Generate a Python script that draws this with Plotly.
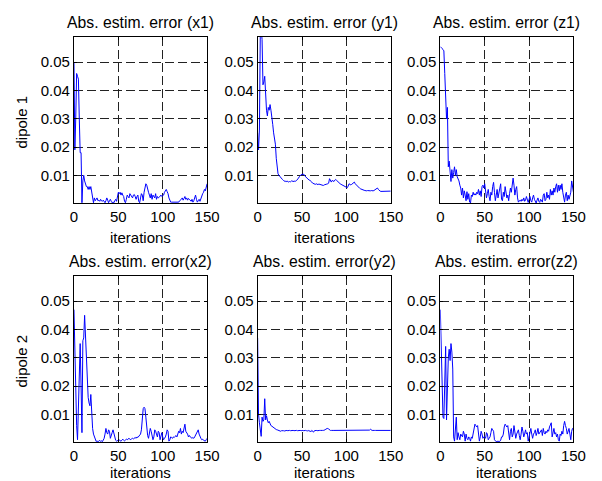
import plotly.graph_objects as go

iterations = list(range(151))

err_x1 = [
    0.050, 0.019, 0.030, 0.046, 0.045, 0.044, 0.030, 0.018, 0.018, 0.0003,
    0.008, 0.010, 0.008, 0.007, 0.006, 0.006, 0.005, 0.006, 0.005, 0.006,
    0.004, 0.001, 0.0003, 0.002, 0.001, 0.0015, 0.002, 0.001, 0.0012, 0.0008,
    0.0015, 0.001, 0.0008, 0.0012, 0.0005, 0.0003, 0.001, 0.002, 0.0012, 0.0003,
    0.001, 0.0015, 0.0008, 0.0003, 0.0006, 0.0003, 0.001, 0.0015, 0.0008, 0.002,
    0.004, 0.0035, 0.004, 0.003, 0.0038, 0.003, 0.0025, 0.0008, 0.0003, 0.0015,
    0.003, 0.0025, 0.002, 0.0035, 0.003, 0.0025, 0.002, 0.003, 0.0032, 0.0025,
    0.0015, 0.0025, 0.003, 0.0008, 0.0003, 0.002, 0.0035, 0.003, 0.001, 0.004,
    0.0055, 0.007, 0.0065, 0.0045, 0.004, 0.003, 0.002, 0.0035, 0.0015, 0.003,
    0.0025, 0.002, 0.0035, 0.0015, 0.0025, 0.002, 0.0022, 0.0025, 0.003, 0.0025,
    0.0028, 0.003, 0.004, 0.0045, 0.005, 0.0042, 0.0035, 0.002, 0.001, 0.0005,
    0.0005, 0.0005, 0.0004, 0.0005, 0.0005, 0.0004, 0.0005, 0.0006, 0.0005, 0.001,
    0.0012, 0.0015, 0.002, 0.0012, 0.0018, 0.0025, 0.0015, 0.002, 0.0012, 0.0018,
    0.0015, 0.0012, 0.0008, 0.0015, 0.0005, 0.001, 0.002, 0.003, 0.0015, 0.0005,
    0.001, 0.0015, 0.0008, 0.002, 0.003, 0.0035, 0.004, 0.005, 0.0045, 0.006,
    0.007,
]

err_y1 = [
    0.025, 0.019, 0.026, 0.060, 0.062, 0.058, 0.042, 0.043, 0.045, 0.036,
    0.033, 0.031, 0.034, 0.033, 0.035, 0.033, 0.031, 0.028, 0.025, 0.023,
    0.021, 0.016, 0.012, 0.0105, 0.010, 0.0095, 0.009, 0.0088, 0.0085, 0.0082,
    0.008, 0.0078, 0.008, 0.0077, 0.0079, 0.0076, 0.0078, 0.0077, 0.008, 0.0079,
    0.0077, 0.0078, 0.008, 0.0079, 0.0082, 0.0085, 0.009, 0.0095, 0.0098, 0.0102,
    0.0105, 0.0102, 0.0104, 0.0098, 0.0095, 0.009, 0.0087, 0.0085, 0.0083, 0.0082,
    0.008, 0.0076, 0.0072, 0.007, 0.0069, 0.0068, 0.007, 0.0068, 0.0067, 0.0069,
    0.0068, 0.0066, 0.0065, 0.0066, 0.0064, 0.0066, 0.0068, 0.0067, 0.0069, 0.0070,
    0.0072, 0.0088, 0.0080, 0.0076, 0.0082, 0.0080, 0.0078, 0.0083, 0.0085, 0.0082,
    0.0078, 0.0075, 0.0072, 0.0070, 0.0068, 0.0066, 0.0065, 0.0063, 0.0060, 0.0058,
    0.0055, 0.0056, 0.0062, 0.0070, 0.0068, 0.0066, 0.0068, 0.0072, 0.0074, 0.0076,
    0.0070, 0.0066, 0.0064, 0.0060, 0.0056, 0.0054, 0.0052, 0.0050, 0.0050, 0.0048,
    0.0047, 0.0046, 0.0045, 0.0045, 0.0046, 0.0045, 0.0044, 0.0045, 0.0046, 0.0045,
    0.0045, 0.0046, 0.0048, 0.0050, 0.0052, 0.0055, 0.0050, 0.0046, 0.0044, 0.0043,
    0.0043, 0.0044, 0.0043, 0.0042, 0.0043, 0.0043, 0.0044, 0.0043, 0.0043, 0.0044,
    0.0044,
]

err_z1 = [
    0.0555, 0.055, 0.0548, 0.0545, 0.054, 0.046, 0.036, 0.030, 0.034, 0.013,
    0.015, 0.010, 0.0078, 0.012, 0.009, 0.011, 0.013, 0.010, 0.012, 0.0095,
    0.0088, 0.0080, 0.0065, 0.0055, 0.0030, 0.0055, 0.0020, 0.0045, 0.0030, 0.0010,
    0.0042, 0.0015, 0.0035, 0.0005, 0.0002, 0.0030, 0.0025, 0.0040, 0.0030, 0.0035,
    0.0030, 0.0040, 0.0035, 0.0050, 0.0030, 0.0045, 0.0025, 0.0060, 0.0065, 0.0055,
    0.0070, 0.0045, 0.0020, 0.0035, 0.0050, 0.0025, 0.0010, 0.0040, 0.0030, 0.0060,
    0.0075, 0.0040, 0.0010, 0.0030, 0.0050, 0.0020, 0.0035, 0.0055, 0.0070, 0.0015,
    0.0010, 0.0040, 0.0025, 0.0060, 0.0045, 0.0020, 0.0030, 0.0010, 0.0035, 0.0055,
    0.0040, 0.0060, 0.0090, 0.0065, 0.0030, 0.0050, 0.0060, 0.0020, 0.0005, 0.0010,
    0.0012, 0.0008, 0.0015, 0.0010, 0.0020, 0.0008, 0.0012, 0.0025, 0.0010, 0.0004,
    0.0015, 0.0025, 0.0010, 0.0005, 0.0020, 0.0030, 0.0015, 0.0004, 0.0002, 0.0012,
    0.0020, 0.0008, 0.0004, 0.0015, 0.0010, 0.0005, 0.0030, 0.0035, 0.0010, 0.0015,
    0.0040, 0.0020, 0.0030, 0.0015, 0.0050, 0.0030, 0.0045, 0.0030, 0.0055, 0.0040,
    0.0060, 0.0070, 0.0040, 0.0065, 0.0045, 0.0065, 0.0050, 0.0070, 0.0040, 0.0010,
    0.0005, 0.0030, 0.0040, 0.0010, 0.0030, 0.0015, 0.0035, 0.0040, 0.0080, 0.0055,
    0.0040,
]

err_x2 = [
    0.047, 0.030, 0.015, 0.006, 0.001, 0.012, 0.030, 0.035, 0.020, 0.0035,
    0.036, 0.037, 0.045, 0.038, 0.030, 0.022, 0.016, 0.014, 0.013, 0.017,
    0.010, 0.005, 0.003, 0.002, 0.001, 0.0004, 0.0006, 0.0003, 0.0005, 0.0008,
    0.0004, 0.0006, 0.0003, 0.0008, 0.0015, 0.003, 0.005, 0.0035, 0.003, 0.0045,
    0.004, 0.0015, 0.003, 0.0035, 0.0045, 0.003, 0.0015, 0.0008, 0.0005, 0.0006,
    0.0008, 0.001, 0.0006, 0.0005, 0.0008, 0.0012, 0.0008, 0.0006, 0.0009, 0.0012,
    0.001, 0.0013, 0.0015, 0.0012, 0.001, 0.0014, 0.0015, 0.0013, 0.0016, 0.0018,
    0.0015, 0.002, 0.0018, 0.0022, 0.0025, 0.003, 0.0045, 0.009, 0.012, 0.0125,
    0.012, 0.009, 0.004, 0.0025, 0.0015, 0.003, 0.005, 0.004, 0.002, 0.001,
    0.002, 0.0045, 0.004, 0.003, 0.002, 0.004, 0.0035, 0.001, 0.002, 0.0035,
    0.002, 0.001, 0.0015, 0.002, 0.003, 0.0045, 0.004, 0.0005, 0.001, 0.002,
    0.0018, 0.0015, 0.002, 0.0018, 0.0022, 0.0025, 0.002, 0.003, 0.004, 0.0035,
    0.005, 0.003, 0.004, 0.0035, 0.005, 0.0065, 0.004, 0.0035, 0.003, 0.002,
    0.0025, 0.002, 0.0018, 0.0015, 0.0018, 0.0015, 0.002, 0.0025, 0.003, 0.004,
    0.0045, 0.003, 0.002, 0.0015, 0.001, 0.0012, 0.0008, 0.0005, 0.0005, 0.001,
    0.0015,
]

err_y2 = [
    0.037, 0.010, 0.007, 0.004, 0.0022, 0.009, 0.0075, 0.008, 0.0155, 0.008,
    0.0095, 0.008, 0.007, 0.0075, 0.0065, 0.006, 0.0058, 0.0055, 0.0052, 0.005,
    0.0048, 0.0046, 0.0045, 0.0044, 0.0042, 0.0041, 0.0040, 0.0042, 0.0043, 0.0042,
    0.0041, 0.0042, 0.0043, 0.0043, 0.0042, 0.0043, 0.0043, 0.0042, 0.0043, 0.0043,
    0.0043, 0.0042, 0.0043, 0.0043, 0.0043, 0.0042, 0.0043, 0.0043, 0.0043, 0.0042,
    0.0043, 0.0043, 0.0042, 0.0043, 0.0043, 0.0042, 0.0041, 0.0043, 0.0040, 0.0042,
    0.0038, 0.0043, 0.0040, 0.0037, 0.0042, 0.0043, 0.0043, 0.0042, 0.0043, 0.0043,
    0.0043, 0.0043, 0.0042, 0.0043, 0.0043, 0.0043, 0.0045, 0.0048, 0.0050, 0.0050,
    0.0048, 0.0045, 0.0043, 0.0043, 0.0042, 0.0043, 0.0043, 0.0043, 0.0042, 0.0043,
    0.0043, 0.0043, 0.0042, 0.0043, 0.0043, 0.0043, 0.0042, 0.0043, 0.0043, 0.0043,
    0.0042, 0.0043, 0.0043, 0.0043, 0.0043, 0.0042, 0.0043, 0.0043, 0.0043, 0.0042,
    0.0043, 0.0043, 0.0043, 0.0042, 0.0043, 0.0043, 0.0043, 0.0043, 0.0042, 0.0043,
    0.0043, 0.0043, 0.0042, 0.0043, 0.0043, 0.0043, 0.0044, 0.0047, 0.0044, 0.0043,
    0.0043, 0.0042, 0.0043, 0.0043, 0.0043, 0.0042, 0.0043, 0.0043, 0.0043, 0.0042,
    0.0043, 0.0043, 0.0042, 0.0043, 0.0043, 0.0043, 0.0042, 0.0043, 0.0043, 0.0043,
    0.0043,
]

err_z2 = [
    0.047, 0.030, 0.015, 0.009, 0.0085, 0.020, 0.034, 0.008, 0.022, 0.030,
    0.033, 0.029, 0.035, 0.032, 0.026, 0.002, 0.0005, 0.004, 0.009, 0.001,
    0.0035, 0.002, 0.001, 0.003, 0.0025, 0.002, 0.004, 0.003, 0.0005, 0.003,
    0.0015, 0.001, 0.002, 0.0015, 0.0005, 0.002, 0.0015, 0.003, 0.0045, 0.0065,
    0.006, 0.0055, 0.006, 0.002, 0.0005, 0.002, 0.004, 0.003, 0.0015, 0.002,
    0.002, 0.0015, 0.0035, 0.003, 0.001, 0.0015, 0.002, 0.0035, 0.005, 0.0045,
    0.004, 0.001, 0.0008, 0.0003, 0.0005, 0.0003, 0.0005, 0.0004, 0.0008, 0.002,
    0.002, 0.003, 0.0055, 0.0065, 0.006, 0.0055, 0.006, 0.0035, 0.001, 0.004,
    0.005, 0.002, 0.003, 0.006, 0.004, 0.0015, 0.003, 0.004, 0.0045, 0.0025,
    0.001, 0.003, 0.0055, 0.004, 0.002, 0.003, 0.0045, 0.003, 0.0035, 0.0005,
    0.002, 0.004, 0.005, 0.003, 0.0015, 0.003, 0.0035, 0.0045, 0.0025, 0.0035,
    0.005, 0.003, 0.0035, 0.004, 0.0045, 0.0025, 0.005, 0.0035, 0.003, 0.004,
    0.0035, 0.0045, 0.004, 0.0055, 0.0065, 0.007, 0.002, 0.0045, 0.005, 0.003,
    0.0035, 0.002, 0.003, 0.001, 0.0005, 0.003, 0.0025, 0.004, 0.003, 0.006,
    0.0075, 0.006, 0.005, 0.003, 0.004, 0.005, 0.003, 0.001, 0.004, 0.005,
    0.005,
]

titles = ["Abs. estim. error (x1)", "Abs. estim. error (y1)", "Abs. estim. error (z1)",
          "Abs. estim. error(x2)", "Abs. estim. error(y2)", "Abs. estim. error(z2)"]
row_labels = ["dipole 1", "dipole 2"]
x_label = "iterations"
x_ticks = [0, 50, 100, 150]
y_ticks = [0.01, 0.02, 0.03, 0.04, 0.05]
y_tick_text = ["0.01", "0.02", "0.03", "0.04", "0.05"]
series = [err_x1, err_y1, err_z1, err_x2, err_y2, err_z2]

W, H = 602, 481
FONT = "Liberation Sans, Arial, Helvetica, sans-serif"

col_px = [(72, 209), (261, 398), (449, 586)]
row_px = [(37, 203), (276, 442)]
label_offset = [34, 30.5]

fig = go.Figure()
annotations = []
layout = {}
for i, ys in enumerate(series):
    r, c = divmod(i, 3)
    n = i + 1
    xa = "xaxis" if n == 1 else f"xaxis{n}"
    ya = "yaxis" if n == 1 else f"yaxis{n}"
    xref = "x" if n == 1 else f"x{n}"
    yref = "y" if n == 1 else f"y{n}"
    fig.add_trace(go.Scatter(x=iterations, y=ys, mode="lines",
                             line=dict(color="#0000ff", width=1),
                             xaxis=xref, yaxis=yref, showlegend=False,
                             hoverinfo="skip"))
    x0, x1 = col_px[c]
    y0, y1 = row_px[r]
    common = dict(showline=True, linecolor="black", linewidth=1, mirror="ticks",
                  ticks="inside", ticklen=3, tickcolor="black",
                  showgrid=True, gridcolor="#222222", gridwidth=1, griddash="9px,4px",
                  zeroline=False, tickfont=dict(family=FONT, size=15, color="black"),
                  fixedrange=True)
    layout[xa] = dict(domain=[x0 / W, x1 / W], range=[0, 150], tickvals=x_ticks,
                      anchor=yref, **common)
    layout[ya] = dict(domain=[1 - y1 / H, 1 - y0 / H], range=[0.0002, 0.0589],
                      tickvals=y_ticks, ticktext=y_tick_text, anchor=xref, **common)
    cx = (x0 + x1) / 2
    annotations.append(dict(text=titles[i], x=cx / W, y=1 - (y0 - 15) / H,
                            xref="paper", yref="paper", xanchor="center", yanchor="middle",
                            showarrow=False, font=dict(family=FONT, size=15.75, color="black")))
    annotations.append(dict(text=x_label, x=cx / W, y=1 - (y1 + label_offset[r]) / H,
                            xref="paper", yref="paper", xanchor="center", yanchor="middle",
                            showarrow=False, font=dict(family=FONT, size=15, color="black")))

for r, lab in enumerate(row_labels):
    y0, y1 = row_px[r]
    annotations.append(dict(text=lab, x=18 / W, y=1 - ((y0 + y1) / 2 + 2) / H,
                            xref="paper", yref="paper", xanchor="center", yanchor="middle",
                            textangle=-90, showarrow=False,
                            font=dict(family=FONT, size=15, color="black")))

fig.update_layout(width=W, height=H, autosize=False, margin=dict(l=0, r=0, t=0, b=0),
                  paper_bgcolor="white", plot_bgcolor="white",
                  annotations=annotations, **layout)

post = ("document.documentElement.style.margin='0';document.body.style.margin='0';"
        "document.body.style.overflow='hidden';"
        "var gd=document.getElementById('{plot_id}');"
        "Plotly.relayout(gd,{width:%d,height:%d});" % (W, H))

fig.write_html("out.html", config={"displayModeBar": False, "responsive": False},
               post_script=post)
